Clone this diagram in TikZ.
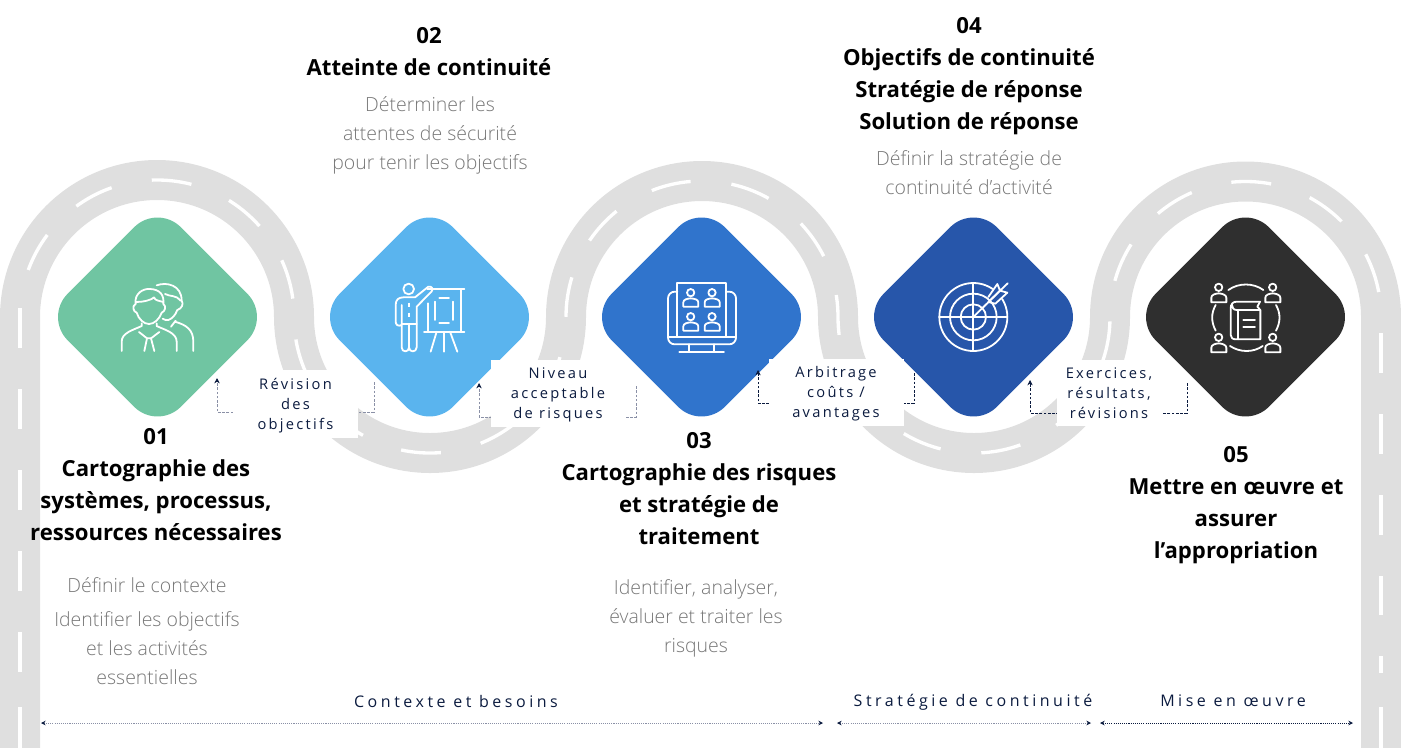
\documentclass[tikz,border=0pt]{standalone}
\usepackage{fontspec}
\usetikzlibrary{arrows.meta}
\setmainfont{Open Sans}
\newfontfamily\lblf[LetterSpace=15.5]{Open Sans}
\newfontfamily\phasef[LetterSpace=22]{Open Sans}
\newfontfamily\subf{Open Sans Light}
\definecolor{roadc}{HTML}{DFDFDF}
\definecolor{navy}{HTML}{0B1B3F}
\definecolor{greyt}{HTML}{777777}
\definecolor{dg}{HTML}{70C5A2}
\definecolor{db}{HTML}{5AB4EE}
\definecolor{dm}{HTML}{3074CC}
\definecolor{dd}{HTML}{2756AA}
\definecolor{dk}{HTML}{2F2F2F}
\definecolor{connl}{HTML}{8A90A6}
\tikzset{
  x=0.75pt,y=-0.75pt,
  gem/.style={rotate=45,minimum size=120pt,inner sep=0pt,rounded corners=24.75pt,fill=#1},
  title/.style={align=center,inner sep=0pt,font=\bfseries\fontsize{16.6}{24}\selectfont,text=black},
  sub/.style={align=center,inner sep=0pt,font=\subf\fontsize{14.6}{21.75}\selectfont,text=greyt},
  patch/.style={inner sep=0pt,fill=white},
  lbl/.style={align=center,inner sep=0pt,text=navy,font=\lblf\fontsize{11}{15}\selectfont},
  phase/.style={align=center,inner sep=0pt,text=navy,font=\phasef\fontsize{12}{13}\selectfont},
  conn/.style={draw=#1,line width=0.5pt,dash pattern=on 2pt off 1.2pt,-{Stealth[length=4pt,width=4pt,color=navy]}},
  span/.style={draw=#1,line width=0.6pt,dash pattern=on 0.8pt off 0.8pt,{Stealth[length=3.5pt,width=3.5pt,color=navy]}-{Stealth[length=3.5pt,width=3.5pt,color=navy]}},
  ico/.style={draw=white,line width=1.35pt,line cap=round,line join=round},
  lane/.style={white,line width=2.5pt},
  lanedash/.style={lane,dash pattern=on 30pt off 30.75pt},
  z1/.style={xshift=0pt,yshift=-127.5pt,x=0.25pt,y=-0.25pt},
  z2/.style={xshift=352.5pt,yshift=-112.5pt,x=0.25pt,y=-0.25pt},
  z3/.style={xshift=690pt,yshift=-127.5pt,x=0.25pt,y=-0.25pt},
}
\begin{document}
\begin{tikzpicture}
\useasboundingbox (0,0) rectangle (1401,747);
\clip (0,0) rectangle (1401,747);
% road
\draw[roadc,line width=30pt] (20,760) -- (20,317) arc[start angle=180,end angle=360,radius=137]
  arc[start angle=180,end angle=0,radius=136] arc[start angle=180,end angle=360,radius=136]
  arc[start angle=180,end angle=0,radius=136] arc[start angle=180,end angle=360,radius=135.5] -- (1381,760);
\draw[lanedash,dash phase=24.75pt] (20,317) arc[start angle=180,end angle=360,radius=137]
  arc[start angle=180,end angle=0,radius=136] arc[start angle=180,end angle=360,radius=136]
  arc[start angle=180,end angle=0,radius=136] arc[start angle=180,end angle=360,radius=135.5];
\draw[lanedash] (20,308) -- (20,672);
\draw[lane] (20,707) -- (20,750);
\draw[lanedash] (1381,333) -- (1381,615);
\draw[lane] (1381,656) -- (1381,673) (1381,707) -- (1381,750);
% diamonds
\node[gem=dg] (d1) at (157.5,317) {};
\node[gem=db] (d2) at (429.5,317) {};
\node[gem=dm] (d3) at (701.5,317) {};
\node[gem=dd] (d4) at (973.5,317) {};
\node[gem=dk] (d5) at (1245.5,317) {};
% connectors
\coordinate (c1a) at (374,382); \coordinate (c1m) at (296,412); \coordinate (c1b) at (217,378);
\coordinate (c2a) at (636,386); \coordinate (c2m) at (558,417); \coordinate (c2b) at (479,383);
\coordinate (c3a) at (914,373); \coordinate (c3m) at (836,403); \coordinate (c3b) at (758,370);
\coordinate (c4a) at (1187,383); \coordinate (c4m) at (1108,413); \coordinate (c4b) at (1030,380);
\draw[conn=connl] (c1a) |- (c1m) -| (c1b);
\draw[conn=connl] (c2a) |- (c2m) -| (c2b);
\draw[conn=navy] (c3a) |- (c3m) -| (c3b);
\draw[conn=navy] (c4a) |- (c4m) -| (c4b);
% label boxes
\node[patch,minimum width=93.75pt,minimum height=51pt] (b1) at (295.5,404) {};
\node[patch,minimum width=100pt,minimum height=50pt] (b2) at (558,393.5) {};
\node[patch,minimum width=101pt,minimum height=50pt] (b3) at (836.5,392.5) {};
\node[patch,minimum width=79.5pt,minimum height=49.5pt] (b4) at (1110,393) {};
\node[lbl] (l1) at (295.5,405.5) {Révision\\des\\objectifs};
\node[lbl] (l2) at (558,394.5) {Niveau\\acceptable\\de risques};
\node[lbl] (l3) at (836,393.5) {Arbitrage\\coûts /\\avantages};
\node[lbl] (l4) at (1109,393.5) {Exercices,\\résultats,\\révisions};
% titles
\node[title] (t1) at (156,485) {01\\Cartographie des\\systèmes, processus,\\ressources nécessaires};
\node[sub] (s1) at (147,585) {Définir le contexte};
\node[sub] (s1b) at (147,648) {Identifier les objectifs\\et les activités\\essentielles};
\node[title] (t2) at (429,51.5) {02\\Atteinte de continuité};
\node[sub] (s2) at (430,135.5) {Déterminer les\\attentes de sécurité\\pour tenir les objectifs};
\node[title] (t3) at (699,489) {03\\Cartographie des risques\\et stratégie de\\traitement};
\node[sub] (s3) at (696,618.5) {Identifier, analyser,\\évaluer et traiter les\\risques};
\node[title] (t4) at (969,76) {04\\Objectifs de continuité\\Stratégie de réponse\\Solution de réponse};
\node[sub] (s4) at (969,173) {Définir la stratégie de\\continuité d’activité};
\node[title] (t5) at (1236,505.5) {05\\Mettre en œuvre et\\assurer\\l’appropriation};
% phases
\node[phase] (p1) at (456,701) {Contexte et besoins};
\node[phase] (p2) at (973,702) {Stratégie de continuité};
\node[phase] (p3) at (1233,701) {Mise en œuvre};
\coordinate (a1) at (41,723); \coordinate (a2) at (823,723);
\coordinate (e0) at (837,723); \coordinate (e3) at (1091,723);
\coordinate (e1) at (1100,723); \coordinate (e2) at (1353,723);
\draw[span=connl] (a1) -- (a2);
\draw[span=connl] (e0) -- (e3);
\draw[span=navy] (e1) -- (e2);
% icon 1: two people
\begin{scope}[z1]
\draw[ico] (470,346) .. controls (500,335) and (545,345) .. (545,392) .. controls (552,402) and (545,416) .. (532,420) .. controls (526,436) and (515,447) .. (505,450) .. controls (498,451) and (492,449) .. (488,446);
\draw[ico] (495,372) .. controls (510,380) and (530,375) .. (542,392);
\draw[ico] (527,452) -- (513,470) (525,455) .. controls (560,465) and (580,480) .. (580,515) -- (580,543);
\draw[ico] (407,402) .. controls (402,370) and (430,355) .. (450,357) .. controls (480,358) and (493,375) .. (490,402) .. controls (500,408) and (495,425) .. (485,428) .. controls (478,448) and (462,462) .. (447,462) .. controls (432,462) and (416,448) .. (410,428) .. controls (400,425) and (395,408) .. (407,402);
\draw[ico] (408,396) .. controls (430,396) and (455,390) .. (462,382) .. controls (465,392) and (480,393) .. (490,396);
\draw[ico] (365,543) -- (365,515) .. controls (365,488) and (400,480) .. (425,468) -- (425,460);
\draw[ico] (530,543) -- (530,515) .. controls (530,488) and (495,480) .. (470,468) -- (470,460);
\draw[ico] (417,486) -- (441,505) -- (453,505) -- (478,486);
\draw[ico] (441,505) -- (433,543) (453,505) -- (463,543);
\end{scope}
% icon 2: presenter and board
\begin{scope}[z1]
\draw[ico] (1226,357) circle[radius=16];
\draw[ico] (1205,465) .. controls (1195,470) and (1187,465) .. (1187,455) -- (1187,405) .. controls (1187,390) and (1195,382) .. (1210,382) -- (1245,382) -- (1285,350) .. controls (1297,348) and (1300,358) .. (1295,364) -- (1250,410) -- (1250,532) .. controls (1250,548) and (1227,548) .. (1227,532) .. controls (1227,548) and (1205,548) .. (1205,532) -- (1205,405);
\draw[ico] (1205,462) -- (1250,462) (1227,462) -- (1227,532);
\draw[ico,line cap=butt,dash pattern=on 3pt off 4.5pt] (1227,398) -- (1227,450);
\draw[ico] (1282,358) -- (1393,358) (1382,358) -- (1382,485) (1272,485) -- (1393,485) (1283,400) -- (1283,485);
\draw[ico] (1310,485) -- (1292,545) (1332,485) -- (1332,545) (1350,485) -- (1372,545);
\draw[ico] (1318,383) -- (1347,383) (1305,395) -- (1305,450) (1360,395) -- (1360,450) (1318,460) -- (1347,460);
\end{scope}
% icon 3: screen with four people
\begin{scope}[z2]
\draw[ico,rounded corners=5pt] (622,425) -- (594,425) -- (594,583) -- (798,583) -- (798,425) -- (768,425);
\draw[ico] (594,560) -- (798,560);
\draw[ico] (622,560) -- (622,398) -- (768,398) -- (768,560);
\foreach \px/\py in {662/428,726/428,662/500,726/500}{
  \draw[ico] (\px,\py) circle[radius=11];
  \draw[ico] (\px-22,\py+42) -- (\px-22,\py+29) .. controls (\px-22,\py+20) and (\px-10,\py+18) .. (\px,\py+17) .. controls (\px+10,\py+18) and (\px+23,\py+20) .. (\px+23,\py+29) -- (\px+23,\py+42) -- cycle;
}
\draw[ico] (657,583) -- (657,605) (733,583) -- (733,605) (628,605) -- (762,605);
\end{scope}
% icon 4: target
\begin{scope}[z3]
\draw[ico] (160,441) circle[radius=102] (160,441) circle[radius=70] (160,441) circle[radius=38];
\draw[ico] (58,441) -- (262,441) (160,340) -- (160,543);
\fill[dd] (203,380) -- (232,340) -- (265,340) -- (265,370) -- (225,403) -- cycle;
\draw[ico] (160,441) -- (240,362);
\draw[ico] (205,381) -- (232,342) -- (240,362) -- (263,340) (240,362) -- (262,368) -- (226,401) -- (205,396) -- cycle;
\end{scope}
% icon 5: people around a book
\begin{scope}[z3]
\foreach \px/\py in {896/352,1058/352,896/502,1058/502}{
  \draw[ico] (\px,\py) circle[radius=11];
  \draw[ico] (\px-22,\py+45) -- (\px-22,\py+31) .. controls (\px-22,\py+22) and (\px-10,\py+19) .. (\px,\py+18) .. controls (\px+10,\py+19) and (\px+23,\py+22) .. (\px+23,\py+31) -- (\px+23,\py+45) -- cycle;
}
\draw[ico] (925,360) .. controls (955,338) and (1000,338) .. (1030,360);
\draw[ico] (930,528) .. controls (960,548) and (1000,548) .. (1028,528);
\draw[ico] (887,405) .. controls (873,430) and (873,455) .. (887,482);
\draw[ico] (1068,405) .. controls (1082,430) and (1082,455) .. (1068,482);
\draw[ico] (1020,395) -- (950,395) .. controls (938,395) and (932,403) .. (932,415) -- (932,495) .. controls (932,503) and (938,508) .. (948,508) -- (1021,508) -- (1021,420) -- (950,420) .. controls (940,420) and (936,412) .. (936,405);
\draw[ico] (954,420) -- (954,508) (1021,420) -- (1012,410) -- (1020,395);
\draw[ico] (970,450) -- (1005,450) (970,472) -- (1005,472);
\end{scope}
\end{tikzpicture}
\end{document}
